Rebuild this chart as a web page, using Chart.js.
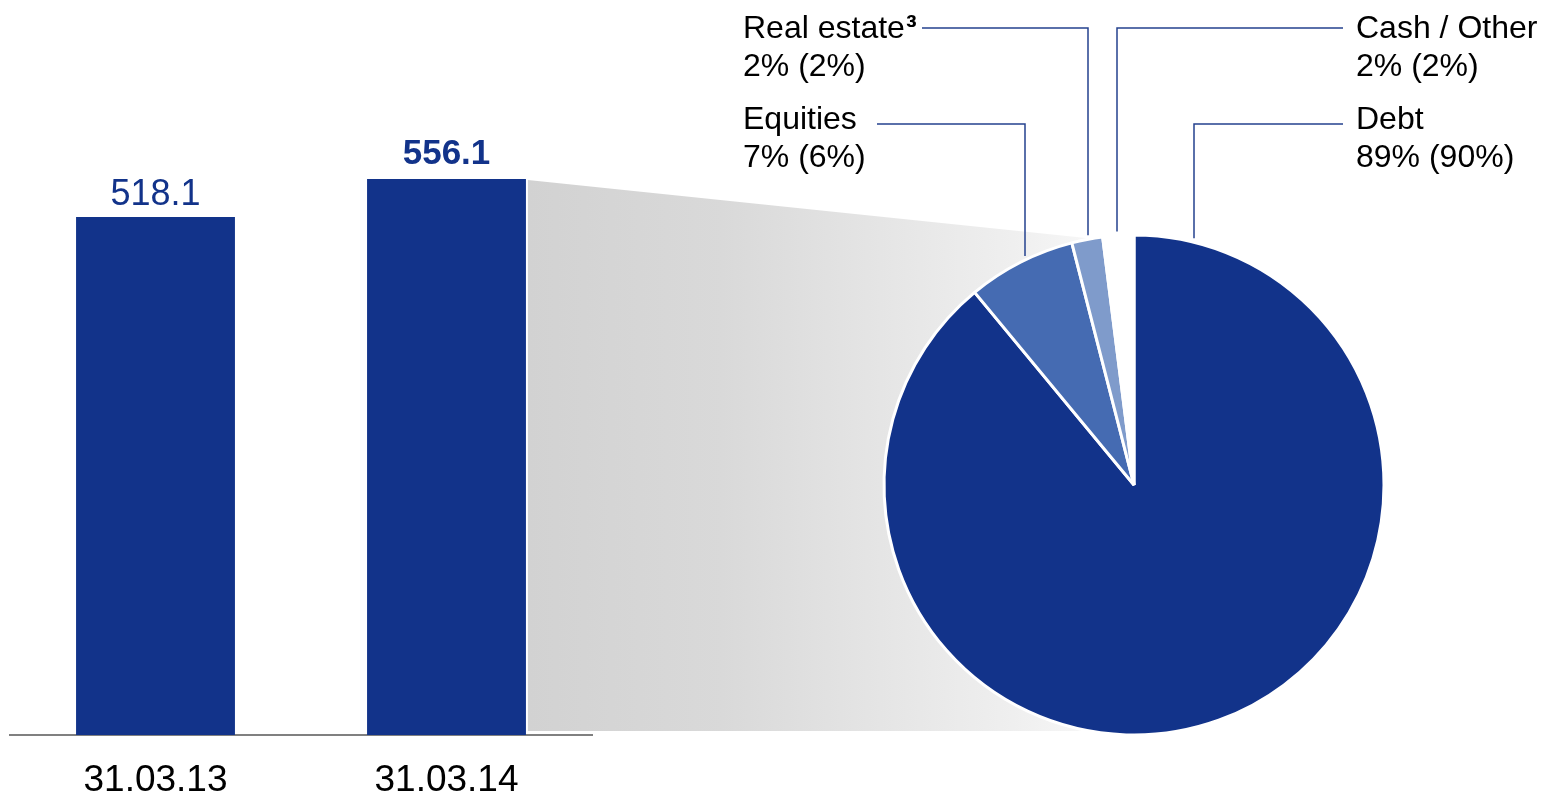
<!DOCTYPE html>
<html><head><meta charset="utf-8">
<script src="https://cdn.jsdelivr.net/npm/chart.js@4.4.1/dist/chart.umd.min.js"></script>
<style>
html,body{margin:0;padding:0;background:#fff;width:1543px;height:797px;overflow:hidden;}
#pie{position:absolute;left:0;top:0;}
#bar{position:absolute;left:0;top:0;}
</style></head><body>
<canvas id="pie" width="1543" height="797"></canvas>
<canvas id="bar" width="600" height="797"></canvas>
<script>
// ---- data ----
const barCategories = ['31.03.13', '31.03.14'];
const barValues = [518.1, 556.1];
const barValueLabels = ['518.1', '556.1'];
const pieCategories = ['Debt', 'Equities', 'Real estate\u00B3', 'Cash / Other'];
const pieValues = [89, 7, 2, 2];
const piePriorValues = [90, 6, 2, 2];

const FONT = "'Liberation Sans', Arial, Helvetica, sans-serif";
Chart.defaults.font.family = FONT;
const NAVY = '#12338A';

// value labels above bars
const valueLabelPlugin = {
  id: 'valueLabels',
  afterDatasetsDraw(chart) {
    const ctx = chart.ctx;
    const meta = chart.getDatasetMeta(0);
    ctx.save();
    ctx.fillStyle = NAVY;
    ctx.textAlign = 'center';
    ctx.textBaseline = 'alphabetic';
    meta.data.forEach((bar, i) => {
      const bold = i === meta.data.length - 1;
      ctx.font = (bold ? 'bold 35px ' : '36px ') + FONT;
      ctx.fillText(barValueLabels[i], bar.x, bar.y - (bold ? 15 : 12));
    });
    ctx.restore();
  }
};

const barChart = new Chart(document.getElementById('bar'), {
  type: 'bar',
  data: {
    labels: barCategories,
    datasets: [{ data: barValues, backgroundColor: NAVY, barPercentage: 0.546, categoryPercentage: 1 }]
  },
  options: {
    responsive: false, animation: false, devicePixelRatio: 1,
    layout: { padding: { left: 10, right: 8, top: 0, bottom: 0 } },
    plugins: { legend: { display: false }, tooltip: { enabled: false } },
    scales: {
      y: { display: false, min: 0, max: 735 },
      x: {
        grid: { display: false, drawTicks: false },
        border: { display: true, color: '#808080', width: 2 },
        ticks: { color: '#000', font: { size: 37 }, padding: 24 },
        afterFit(s) { s.height = 62; }
      }
    }
  },
  plugins: [valueLabelPlugin]
});

// gradient bridge from the latest bar to the pie
const bridgePlugin = {
  id: 'bridge',
  beforeDatasetsDraw(chart) {
    const bars = barChart.getDatasetMeta(0).data;
    const bar = bars[bars.length - 1];
    const arc = chart.getDatasetMeta(0).data[0];
    const L = bar.x + bar.width / 2 + 2;
    const T = bar.y + 1;
    const B = bar.base - 4;
    const cx = arc.x, cy = arc.y, r = arc.outerRadius;
    const ctx = chart.ctx;
    ctx.save();
    const g = ctx.createLinearGradient(L, 0, cx + 40, 0);
    g.addColorStop(0, '#d2d2d2');
    g.addColorStop(0.3, '#d9d9d9');
    g.addColorStop(0.75, '#efefef');
    g.addColorStop(1, '#ffffff');
    ctx.fillStyle = g;
    ctx.beginPath();
    ctx.moveTo(L, T);
    ctx.lineTo(cx, cy - r + 8);
    ctx.lineTo(cx, B);
    ctx.lineTo(L, B);
    ctx.closePath();
    ctx.fill();
    ctx.restore();
  }
};

// label layout per pie category (same order as pieCategories)
const labelLayout = [
  { tx: 1356, ty: 129, ly: 124, lx: 1194, from: 1343 },
  { tx: 743, ty: 129, ly: 124, lx: 1025, from: 877 },
  { tx: 743, ty: 38, ly: 28, lx: 1088, from: 922 },
  { tx: 1356, ty: 38, ly: 28, lx: 1117, from: 1343 }
];

const leaderPlugin = {
  id: 'leaders',
  afterDraw(chart) {
    const arc = chart.getDatasetMeta(0).data[0];
    const cx = arc.x, cy = arc.y, r = arc.outerRadius;
    const ctx = chart.ctx;
    ctx.save();
    ctx.strokeStyle = '#25428F';
    ctx.lineWidth = 1.5;
    ctx.fillStyle = '#000';
    ctx.textAlign = 'left';
    ctx.textBaseline = 'alphabetic';
    pieCategories.forEach((name, i) => {
      const p = labelLayout[i];
      const endY = cy - Math.sqrt(r * r - (p.lx - cx) * (p.lx - cx)) - 4;
      ctx.beginPath();
      ctx.moveTo(p.from, p.ly);
      ctx.lineTo(p.lx, p.ly);
      ctx.lineTo(p.lx, endY);
      ctx.stroke();
      ctx.font = '32px ' + FONT;
      if (name.endsWith('\u00B3')) {
        const base = name.slice(0, -1);
        ctx.fillText(base, p.tx, p.ty);
        const w = ctx.measureText(base).width;
        ctx.font = 'bold 32px ' + FONT;
        ctx.fillText('\u00B3', p.tx + w + 1, p.ty);
        ctx.font = '32px ' + FONT;
      } else {
        ctx.fillText(name, p.tx, p.ty);
      }
      ctx.fillText(pieValues[i] + '% (' + piePriorValues[i] + '%)', p.tx, p.ty + 38);
    });
    ctx.restore();
  }
};

const pieChart = new Chart(document.getElementById('pie'), {
  type: 'pie',
  data: {
    labels: pieCategories,
    datasets: [{
      data: pieValues,
      backgroundColor: [NAVY, '#456BB2', '#7F9BCB', '#FFFFFF'],
      borderColor: '#FFFFFF',
      borderWidth: 3
    }]
  },
  options: {
    responsive: false, animation: false, devicePixelRatio: 1,
    layout: { padding: { left: 882.5, right: 157.5, top: 233.5, bottom: 60.5 } },
    plugins: { legend: { display: false }, tooltip: { enabled: false } }
  },
  plugins: [bridgePlugin, leaderPlugin]
});
</script>
</body></html>
